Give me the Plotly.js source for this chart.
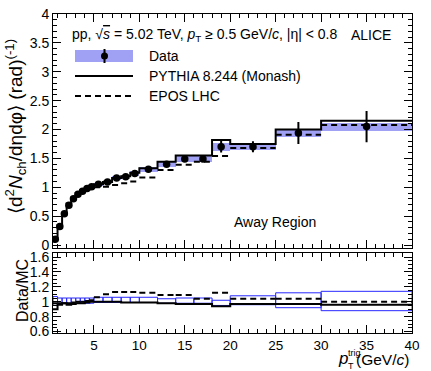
<!DOCTYPE html>
<html>
<head>
<meta charset="utf-8">
<script src="https://cdn.plot.ly/plotly-3.0.1.min.js"></script>
<style>
  html, body { margin: 0; padding: 0; background: #fff; }
  #myDiv { width: 431px; height: 371px; }
</style>
</head>
<body>
<div id="myDiv"></div>
<script>
// Bins in pT trig (GeV/c)
var binEdges = [0.5, 1, 1.5, 2, 2.5, 3, 3.5, 4, 4.5, 5, 6, 7, 8, 9, 10, 12, 14, 16, 18, 20, 25, 30, 40];
var ptCenter = [0.75, 1.25, 1.75, 2.25, 2.75, 3.25, 3.75, 4.25, 4.75, 5.5, 6.5, 7.5, 8.5, 9.5, 11, 13, 15, 17, 19, 22.5, 27.5, 35];

// Data, away region
var dataY    = [0.10, 0.32, 0.54, 0.69, 0.80, 0.88, 0.93, 0.98, 1.01, 1.05, 1.09, 1.16, 1.18, 1.24, 1.31, 1.40, 1.49, 1.49, 1.70, 1.70, 1.94, 2.05];
var dataStat = [0.01, 0.01, 0.01, 0.01, 0.01, 0.01, 0.01, 0.01, 0.01, 0.01, 0.01, 0.015, 0.015, 0.02, 0.02, 0.03, 0.04, 0.04, 0.10, 0.095, 0.19, 0.27];
var dataSys  = [0.01, 0.01, 0.015, 0.02, 0.02, 0.025, 0.025, 0.03, 0.03, 0.03, 0.03, 0.035, 0.035, 0.04, 0.04, 0.045, 0.05, 0.05, 0.065, 0.05, 0.065, 0.07];

// Models
var pythiaY = [0.11, 0.34, 0.55, 0.72, 0.82, 0.90, 0.95, 0.99, 1.01, 1.05, 1.09, 1.16, 1.19, 1.25, 1.33, 1.44, 1.55, 1.55, 1.82, 1.75, 2.00, 2.15];
var eposY   = [0.10, 0.33, 0.55, 0.70, 0.81, 0.88, 0.93, 0.97, 0.99, 1.00, 1.01, 1.04, 1.07, 1.10, 1.17, 1.30, 1.39, 1.44, 1.54, 1.68, 1.91, 2.08];

// Ratio panel
var ratioPythia = [0.90, 0.96, 0.98, 0.96, 0.97, 0.98, 0.98, 0.99, 1.00, 1.00, 1.00, 1.00, 0.99, 0.99, 0.99, 0.98, 0.97, 0.97, 0.94, 0.97, 0.97, 0.96];
var ratioEpos   = [0.98, 0.98, 0.98, 0.98, 0.99, 1.00, 1.00, 1.01, 1.02, 1.06, 1.10, 1.13, 1.13, 1.13, 1.12, 1.09, 1.09, 1.04, 1.12, 1.04, 1.04, 1.00];
var boxLo = [0.95, 0.98, 0.98, 0.98, 0.98, 0.98, 0.98, 0.98, 0.98, 0.99, 0.99, 0.99, 0.99, 0.99, 0.99, 0.98, 0.98, 0.98, 0.95, 0.96, 0.92, 0.88];
var boxHi = [1.07, 1.05, 1.05, 1.05, 1.05, 1.05, 1.05, 1.05, 1.05, 1.06, 1.06, 1.06, 1.06, 1.06, 1.06, 1.04, 1.05, 1.05, 1.02, 1.08, 1.12, 1.14];

var FONT = '"Liberation Sans Narrow", "Arial Narrow", "Liberation Sans", Arial, sans-serif';
var BAND = 'rgb(160,160,245)';

// pixel -> paper helpers (plot area 53..412 x 14..333)
function px(x) { return (x - 53) / 359; }
function py(y) { return (333 - y) / 319; }

var widths = [];
for (var i = 0; i < ptCenter.length; i++) widths.push(binEdges[i + 1] - binEdges[i]);

function stepY(vals) { return vals.concat([vals[vals.length - 1]]); }
function segments(vals) {
    var xs = [], ys = [];
    for (var i = 0; i < vals.length; i++) {
        xs.push(binEdges[i], binEdges[i + 1], null);
        ys.push(vals[i], vals[i], null);
    }
    return { x: xs, y: ys };
}

var eposSeg = segments(eposY);
var eposRatioSeg = segments(ratioEpos);

var data = [
    // systematic band
    {
        type: 'bar', x: ptCenter, width: widths,
        base: dataY.map(function (v, i) { return v - dataSys[i]; }),
        y: dataSys.map(function (s) { return 2 * s; }),
        marker: { color: BAND, line: { width: 0 } },
        xaxis: 'x', yaxis: 'y'
    },
    // PYTHIA
    {
        type: 'scatter', mode: 'lines', x: binEdges, y: stepY(pythiaY),
        line: { shape: 'hv', color: 'black', width: 2 },
        xaxis: 'x', yaxis: 'y'
    },
    // EPOS
    {
        type: 'scatter', mode: 'lines', x: eposSeg.x, y: eposSeg.y,
        line: { color: 'black', width: 2, dash: '6px,4px' },
        connectgaps: false, xaxis: 'x', yaxis: 'y'
    },
    // Data points
    {
        type: 'scatter', mode: 'markers', x: ptCenter, y: dataY,
        marker: { color: 'black', size: 7.5 },
        error_y: { type: 'data', array: dataStat, color: 'black', thickness: 2, width: 0 },
        xaxis: 'x', yaxis: 'y'
    },
    // ratio boxes
    {
        type: 'bar', x: ptCenter, width: widths,
        base: boxLo,
        y: boxHi.map(function (v, i) { return v - boxLo[i]; }),
        marker: { color: 'rgba(0,0,0,0)', line: { color: 'rgb(40,40,255)', width: 1 } },
        xaxis: 'x2', yaxis: 'y2'
    },
    {
        type: 'scatter', mode: 'lines', x: binEdges, y: stepY(ratioPythia),
        line: { shape: 'hv', color: 'black', width: 2 },
        xaxis: 'x2', yaxis: 'y2'
    },
    {
        type: 'scatter', mode: 'lines', x: eposRatioSeg.x, y: eposRatioSeg.y,
        line: { color: 'black', width: 2, dash: '6px,4px' },
        connectgaps: false, xaxis: 'x2', yaxis: 'y2'
    }
];

function axisBase() {
    return {
        ticks: 'inside', tickcolor: 'black', ticklen: 8, tickwidth: 1,
        showline: true, linecolor: 'black', linewidth: 1, mirror: 'ticks',
        showgrid: false, zeroline: false,
        tickfont: { family: FONT, size: 14, color: 'black' }
    };
}

var xaxis = axisBase();
Object.assign(xaxis, {
    domain: [0, 1], range: [0.5, 40], anchor: 'y', tick0: 0, dtick: 5,
    showticklabels: false, matches: 'x2',
    minor: { ticks: 'inside', ticklen: 4, dtick: 1, tickcolor: 'black' }
});
var xaxis2 = axisBase();
Object.assign(xaxis2, {
    domain: [0, 1], range: [0.5, 40], anchor: 'y2', tick0: 0, dtick: 5,
    tickfont: { family: FONT, size: 13.5, color: 'black' },
    minor: { ticks: 'inside', ticklen: 4, dtick: 1, tickcolor: 'black' }
});
var yaxis = axisBase();
Object.assign(yaxis, {
    domain: [0.265, 1], range: [-0.06, 4], anchor: 'x', tick0: 0, dtick: 0.5,
    minor: { ticks: 'inside', ticklen: 4, dtick: 0.1, tickcolor: 'black' }
});
var yaxis2 = axisBase();
Object.assign(yaxis2, {
    domain: [0, 0.252], range: [0.58, 1.66], anchor: 'x2', tick0: 0, dtick: 0.2,
    minor: { ticks: 'inside', ticklen: 4, dtick: 0.05, tickcolor: 'black' }
});

function note(text, x, y, opts) {
    var a = {
        text: text, x: x, y: y, xref: 'paper', yref: 'paper',
        xanchor: 'left', yanchor: 'middle', showarrow: false,
        font: { family: FONT, size: 14, color: 'black' }
    };
    return Object.assign(a, opts || {});
}

var annotations = [
    note('pp, √<span style="text-decoration:overline"><i>s</i></span> = 5.02 TeV, <i>p</i><sub>T</sub> ≥ 0.5 GeV/<i>c</i>, |η| &lt; 0.8', px(70), py(35)),
    note('ALICE', px(349), py(35)),
    note('Away Region', px(232), py(222)),
    note('Data', px(147), py(56)),
    note('PYTHIA 8.244 (Monash)', px(147), py(76)),
    note('EPOS LHC', px(147), py(96)),
    note('⟨d<sup>2</sup><i>N</i><sub>ch</sub>/dηdφ⟩ (rad)<sup>(-1)</sup>', px(16), py(127),
        { xanchor: 'center', textangle: -90, font: { family: FONT, size: 19, color: 'black' } }),
    note('Data/MC', px(22), py(291),
        { xanchor: 'center', textangle: -90, font: { family: FONT, size: 16, color: 'black' } }),
    note('<i>p</i>', px(343), py(358), { xanchor: 'center', font: { family: FONT, size: 17, color: 'black' } }),
    note('trig', px(346), py(352.5), { font: { family: FONT, size: 9, color: 'black' } }),
    note('T', px(346), py(366), { font: { family: FONT, size: 9, color: 'black' } }),
    note('(GeV/<i>c</i>)', px(411), py(359), { xanchor: 'right', font: { family: FONT, size: 15.5, color: 'black' } })
];

var shapes = [
    // legend: data box + marker
    { type: 'rect', xref: 'paper', yref: 'paper', x0: px(75), x1: px(133), y0: py(62), y1: py(50),
      fillcolor: BAND, line: { width: 0 } },
    { type: 'line', xref: 'paper', yref: 'paper', x0: px(104.5), x1: px(104.5), y0: py(63), y1: py(49),
      line: { color: 'black', width: 2 } },
    { type: 'circle', xref: 'paper', yref: 'paper', x0: px(101), x1: px(108), y0: py(59.5), y1: py(52.5),
      fillcolor: 'black', line: { color: 'black', width: 0 } },
    { type: 'line', xref: 'paper', yref: 'paper', x0: px(75), x1: px(133), y0: py(76), y1: py(76),
      line: { color: 'black', width: 2 } },
    { type: 'line', xref: 'paper', yref: 'paper', x0: px(75), x1: px(133), y0: py(96), y1: py(96),
      line: { color: 'black', width: 2, dash: '6px,4px' } }
];

var layout = {
    width: 431, height: 371,
    margin: { l: 53, r: 19, t: 14, b: 38, pad: 0 },
    paper_bgcolor: 'white', plot_bgcolor: 'white',
    showlegend: false, barmode: 'overlay', bargap: 0,
    xaxis: xaxis, xaxis2: xaxis2, yaxis: yaxis, yaxis2: yaxis2,
    annotations: annotations, shapes: shapes,
    font: { family: FONT, size: 14, color: 'black' }
};

Plotly.newPlot('myDiv', data, layout, { staticPlot: true });
</script>
</body>
</html>
